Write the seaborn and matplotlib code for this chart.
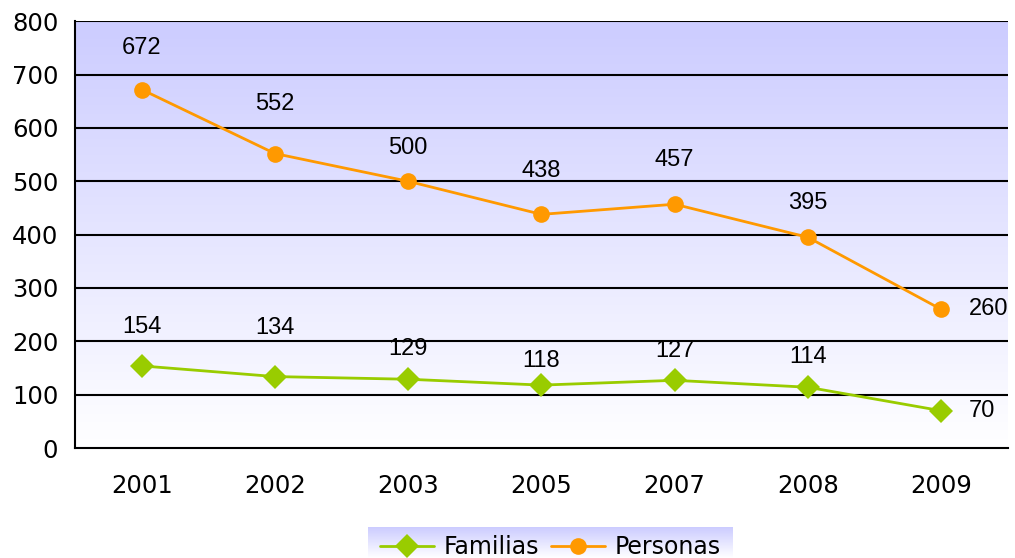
import numpy as np
import pandas as pd
import seaborn as sns
import matplotlib.pyplot as plt
from matplotlib.colors import LinearSegmentedColormap

# datos
anios = ["2001", "2002", "2003", "2005", "2007", "2008", "2009"]
familias = [154, 134, 129, 118, 127, 114, 70]
personas = [672, 552, 500, 438, 457, 395, 260]

# desplazamiento de las etiquetas (puntos)
off_fam = [(0, 28), (0, 35), (0, 22), (0, 17), (0, 21), (0, 22), (20, 0)]
off_per = [(0, 30), (0, 36), (0, 24), (0, 31), (0, 32), (0, 25), (20, 0)]

df = pd.DataFrame({
    "anio": anios * 2,
    "valor": familias + personas,
    "serie": ["Familias"] * len(anios) + ["Personas"] * len(anios),
})

sns.set_style("white")
plt.rcParams["font.family"] = ["DejaVu Sans"]
plt.rcParams["text.color"] = "black"
plt.rcParams["xtick.color"] = "black"
plt.rcParams["ytick.color"] = "black"

fig = plt.figure(figsize=(10.15, 5.58), dpi=100)
ax = fig.add_axes([0.0739, 0.197, 0.919, 0.765])

# fondo degradado
cmap = LinearSegmentedColormap.from_list("bg", ["#ffffff", "#ccccff"])
grad = np.linspace(0, 1, 256).reshape(-1, 1)
ax.imshow(grad, cmap=cmap, aspect="auto", origin="lower",
          extent=[-0.5, 6.5, 0, 800], zorder=0)

colores = {"Familias": "#99cc00", "Personas": "#ff9900"}
marcadores = {"Familias": "D", "Personas": "o"}
sns.lineplot(data=df, x="anio", y="valor", hue="serie", style="serie",
             palette=colores, markers=marcadores, dashes=False,
             markersize=12, markeredgewidth=0, linewidth=2, ax=ax,
             legend=False, zorder=3)

for i, v in enumerate(familias):
    ax.annotate(str(v), (i, v), xytext=off_fam[i], textcoords="offset points",
                ha="center" if off_fam[i][0] == 0 else "left", va="center",
                fontsize=17, family="Liberation Sans", color="black")
for i, v in enumerate(personas):
    ax.annotate(str(v), (i, v), xytext=off_per[i], textcoords="offset points",
                ha="center" if off_per[i][0] == 0 else "left", va="center",
                fontsize=17, family="Liberation Sans", color="black")

ax.set_xlim(-0.5, 6.5)
ax.set_ylim(0, 800)
ax.set_yticks(range(0, 801, 100))
ax.set_xticks(range(len(anios)))
ax.set_xticklabels(anios)
ax.set_xticks(np.arange(-0.5, 7, 1), minor=True)
ax.tick_params(axis="x", which="major", length=0, pad=19, labelsize=17.5)
ax.tick_params(axis="x", which="minor", length=7, width=1.5, direction="out", color="black")
ax.tick_params(axis="y", length=7, width=1.5, direction="out", color="black", labelsize=17.5, pad=5)
for y in range(100, 801, 100):
    ax.axhline(y, color="black", linewidth=1.5, zorder=1)
for s in ["top", "right"]:
    ax.spines[s].set_visible(False)
for s in ["left", "bottom"]:
    ax.spines[s].set_color("black")
    ax.spines[s].set_linewidth(1.5)
ax.set_xlabel("")
ax.set_ylabel("")

# leyenda con fondo degradado
lax = fig.add_axes([368 / 1015, 0, 365 / 1015, 31 / 558])
lax.imshow(grad, cmap=cmap, aspect="auto", origin="lower", extent=[0, 1, 0, 1])
lax.axis("off")
handles = [
    plt.Line2D([], [], color=colores["Familias"], marker="D", markersize=12, lw=2, markeredgewidth=0),
    plt.Line2D([], [], color=colores["Personas"], marker="o", markersize=12, lw=2, markeredgewidth=0),
]
fig.legend(handles, ["Familias", "Personas"], loc="center", bbox_to_anchor=(550 / 1015, 11 / 558),
           ncol=2, frameon=False, fontsize=17, handlelength=2.3, handletextpad=0.4,
           columnspacing=0.5, borderpad=0)

fig.savefig("out.png", dpi=100)
